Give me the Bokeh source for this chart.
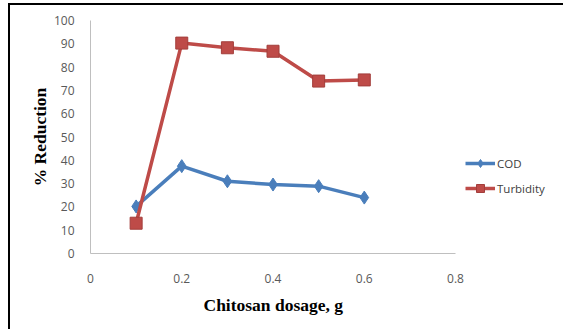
from bokeh.plotting import figure
from bokeh.models import Range1d, FixedTicker, Legend, LegendItem, Column, Title
from bokeh.embed import file_html
from bokeh.resources import INLINE

dosage = [0.1, 0.2, 0.3, 0.4, 0.5, 0.6]
cod = [20.2, 37.5, 31.0, 29.6, 28.9, 24.0]
turbidity = [13.0, 90.3, 88.3, 86.8, 74.0, 74.5]
x_ticks = [0, 0.2, 0.4, 0.6, 0.8]
x_tick_labels = ["0", "0.2", "0.4", "0.6", "0.8"]
y_ticks = [0, 10, 20, 30, 40, 50, 60, 70, 80, 90, 100]
y_tick_labels = ["0", "10", "20", "30", "40", "50", "60", "70", "80", "90", "100"]
x_title = "Chitosan dosage, g"
y_title = "% Reduction"

W, H = 553, 324
# x axis drawn only from 0 to 0.8; the frame extends further right to hold the legend
p = figure(width=W, height=H, output_backend="svg", toolbar_location=None,
           x_range=Range1d(0, 1.03), y_range=Range1d(0, 100),
           min_border_left=80, min_border_right=3, min_border_top=15, min_border_bottom=76)
p.outline_line_color = None
p.grid.grid_line_color = None
p.background_fill_color = "white"
p.border_fill_color = "white"

for ax in (p.xaxis[0], p.yaxis[0]):
    ax.axis_line_color = "#bfbfbf"
    ax.axis_line_width = 1
    ax.major_tick_line_color = None
    ax.minor_tick_line_color = None
    ax.major_label_text_font = "Open Sans"
    ax.major_label_text_font_size = "12px"
    ax.major_label_text_color = "#595959"
    ax.axis_label_text_font = "Liberation Serif"
    ax.axis_label_text_font_style = "bold"
    ax.axis_label_text_font_size = "17.5px"
    ax.axis_label_text_color = "black"

p.xaxis.bounds = (0, 0.8)
p.xaxis.ticker = FixedTicker(ticks=x_ticks)
p.xaxis.major_label_overrides = {t: l for t, l in zip(x_ticks, x_tick_labels)}
p.yaxis.ticker = FixedTicker(ticks=y_ticks)
p.yaxis.major_label_overrides = {t: l for t, l in zip(y_ticks, y_tick_labels)}
p.yaxis.axis_label = y_title
p.xaxis.major_label_standoff = 14
p.yaxis.major_label_standoff = 10
p.yaxis.axis_label_standoff = 1

# x-axis title, positioned under the 0..0.8 part of the axis
p.add_layout(Title(text=x_title, align="left", offset=113, standoff=14,
                   text_font="Liberation Serif", text_font_style="bold",
                   text_font_size="17.5px", text_color="black"), "below")

blue = "#4a7ebb"
red = "#be4b48"
l1 = p.line(dosage, cod, line_color=blue, line_width=3.5)
m1 = p.scatter(dosage, cod, marker="diamond", size=13, fill_color=blue, line_color=blue)
l2 = p.line(dosage, turbidity, line_color=red, line_width=3.5)
m2 = p.scatter(dosage, turbidity, marker="square", size=12, fill_color=red, line_color="#a33e3b")

legend = Legend(items=[LegendItem(label="COD", renderers=[l1, m1]),
                       LegendItem(label="Turbidity", renderers=[l2, m2])],
                location=(375, 55), padding=0, margin=0, spacing=5,
                glyph_width=30, glyph_height=20, label_standoff=2,
                label_text_font="Open Sans", label_text_font_size="11.5px",
                label_text_color="#404040", border_line_color=None,
                background_fill_alpha=0)
p.add_layout(legend)

layout = Column(children=[p], margin=(3, 0, 0, 8),
                styles={"border-top": "2px solid black", "border-left": "2px solid black"})

open("out.html", "w").write(file_html(layout, INLINE))
